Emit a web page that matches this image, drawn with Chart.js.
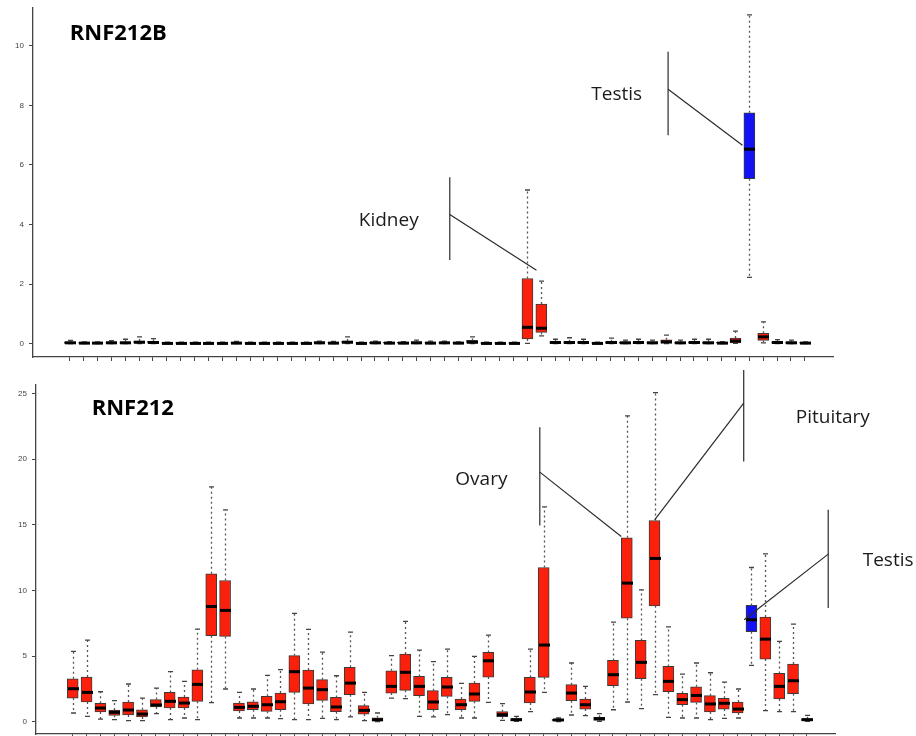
<!DOCTYPE html>
<html>
<head>
<meta charset="utf-8">
<title>RNF212B / RNF212 expression by tissue</title>
<script src="https://cdn.jsdelivr.net/npm/chart.js@4.4.1/dist/chart.umd.min.js"></script>
<style>
  body { margin: 0; background: #fff; }
  #wrap { position: relative; width: 916px; height: 736px; overflow: hidden; }
  canvas { position: absolute; left: 0; }
  #top-chart { top: 0; }
  #bottom-chart { top: 366px; }
</style>
</head>
<body>
<div id="wrap">
  <canvas id="top-chart" width="916" height="366"></canvas>
  <canvas id="bottom-chart" width="916" height="370"></canvas>
</div>
<script>
// tissues, left to right (same order in both panels)
const tissues = [
  "Adipose - Subcutaneous", "Adipose - Visceral", "Adrenal Gland", "Artery - Aorta", "Artery - Coronary",
  "Artery - Tibial", "Bladder", "Brain - Amygdala", "Brain - Anterior cingulate cortex", "Brain - Caudate",
  "Brain - Cerebellar Hemisphere", "Brain - Cerebellum", "Brain - Cortex", "Brain - Frontal Cortex", "Brain - Hippocampus",
  "Brain - Hypothalamus", "Brain - Nucleus accumbens", "Brain - Putamen", "Brain - Spinal cord", "Brain - Substantia nigra",
  "Breast", "Cells - EBV lymphocytes", "Cells - Fibroblasts", "Cervix - Ectocervix", "Cervix - Endocervix",
  "Colon - Sigmoid", "Colon - Transverse", "Esophagus - GE Junction", "Esophagus - Mucosa", "Esophagus - Muscularis",
  "Fallopian Tube", "Heart - Atrial Appendage", "Heart - Left Ventricle", "Kidney - Cortex", "Kidney - Medulla",
  "Liver", "Lung", "Minor Salivary Gland", "Muscle - Skeletal", "Nerve - Tibial",
  "Ovary", "Pancreas", "Pituitary", "Prostate", "Skin - Not Sun Exposed",
  "Skin - Sun Exposed", "Small Intestine", "Spleen", "Stomach", "Testis",
  "Thyroid", "Uterus", "Vagina", "Whole Blood"
];
const highlight = "Testis";

// RNF212B box stats
const rnf212bMin = [
  0, 0, 0, 0, 0, 0, 0, 0, 0, 0,
  0, 0, 0, 0, 0, 0, 0, 0, 0, 0,
  0, 0, 0, 0, 0, 0, 0, 0, 0, 0,
  0, 0, 0, 0.01, 0.26, 0, 0, 0, 0, 0,
  0, 0, 0, 0, 0, 0, 0, 0, 0.01, 2.23,
  0.03, 0, 0, 0
];
const rnf212bQ1 = [
  0.01, 0, 0, 0.01, 0.01, 0.02, 0.02, 0, 0, 0,
  0, 0, 0, 0, 0, 0, 0, 0, 0.01, 0,
  0.02, 0, 0.01, 0, 0, 0.01, 0.01, 0.01, 0, 0.02,
  0, 0, 0, 0.16, 0.38, 0.01, 0.01, 0.01, 0, 0.01,
  0.01, 0.01, 0.01, 0.02, 0.01, 0.01, 0.01, 0, 0.03, 5.54,
  0.11, 0.01, 0.01, 0
];
const rnf212bMed = [
  0.03, 0.02, 0.02, 0.03, 0.03, 0.05, 0.04, 0.01, 0.01, 0.01,
  0.01, 0.01, 0.02, 0.01, 0.01, 0.01, 0.01, 0.01, 0.03, 0.02,
  0.05, 0.01, 0.03, 0.02, 0.02, 0.03, 0.02, 0.03, 0.02, 0.05,
  0.01, 0.01, 0.01, 0.55, 0.52, 0.04, 0.04, 0.04, 0.01, 0.04,
  0.03, 0.04, 0.03, 0.06, 0.03, 0.04, 0.03, 0.02, 0.09, 6.53,
  0.23, 0.04, 0.03, 0.02
];
const rnf212bQ3 = [
  0.06, 0.04, 0.04, 0.06, 0.06, 0.09, 0.08, 0.03, 0.03, 0.03,
  0.03, 0.03, 0.04, 0.03, 0.03, 0.03, 0.03, 0.03, 0.06, 0.05,
  0.09, 0.03, 0.05, 0.05, 0.05, 0.06, 0.05, 0.05, 0.04, 0.11,
  0.03, 0.03, 0.03, 2.19, 1.33, 0.07, 0.07, 0.07, 0.03, 0.07,
  0.06, 0.07, 0.06, 0.13, 0.05, 0.07, 0.06, 0.05, 0.19, 7.75,
  0.35, 0.07, 0.06, 0.04
];
const rnf212bMax = [
  0.11, 0.06, 0.06, 0.10, 0.15, 0.23, 0.17, 0.05, 0.05, 0.05,
  0.05, 0.05, 0.08, 0.05, 0.05, 0.05, 0.05, 0.05, 0.09, 0.08,
  0.23, 0.05, 0.09, 0.07, 0.07, 0.12, 0.09, 0.09, 0.06, 0.23,
  0.05, 0.05, 0.05, 5.16, 2.10, 0.15, 0.20, 0.15, 0.05, 0.19,
  0.12, 0.15, 0.12, 0.29, 0.12, 0.15, 0.15, 0.07, 0.42, 11.04,
  0.73, 0.14, 0.12, 0.06
];

// RNF212 box stats
const rnf212Min = [
  0.66, 0.41, 0.20, 0.15, 0.08, 0.08, 0.61, 0.15, 0.28, 0.15,
  1.45, 2.49, 0.28, 0.28, 0.28, 0.23, 0.15, 0.15, 0.25, 0.15,
  0.36, 0.08, 0.00, 1.80, 1.75, 0.41, 0.36, 0.53, 0.28, 0.28,
  1.47, 0.10, 0.03, 0.76, 2.23, 0.00, 0.51, 0.46, 0.03, 0.91,
  1.50, 0.99, 2.06, 0.33, 0.28, 0.28, 0.15, 0.25, 0.28, 4.29,
  0.84, 0.76, 0.76, 0.03
];
const rnf212Q1 = [
  1.80, 1.50, 0.74, 0.48, 0.51, 0.36, 1.12, 1.04, 1.04, 1.55,
  6.55, 6.50, 0.81, 0.91, 0.79, 0.91, 2.23, 1.35, 1.62, 0.76,
  2.06, 0.58, 0.03, 2.18, 2.39, 1.98, 0.91, 1.93, 0.91, 1.55,
  3.40, 0.38, 0.08, 1.42, 3.38, 0.05, 1.60, 0.96, 0.10, 2.74,
  7.89, 3.27, 8.83, 2.28, 1.29, 1.47, 0.74, 0.96, 0.66, 6.85,
  4.77, 1.73, 2.13, 0.08
];
const rnf212Med = [
  2.51, 2.23, 1.04, 0.71, 0.89, 0.58, 1.27, 1.55, 1.42, 2.84,
  8.78, 8.48, 1.09, 1.17, 1.29, 1.52, 3.81, 2.56, 2.44, 1.12,
  2.94, 0.86, 0.15, 2.69, 3.76, 2.69, 1.50, 2.64, 1.29, 2.11,
  4.64, 0.53, 0.15, 2.26, 5.84, 0.13, 2.18, 1.29, 0.23, 3.58,
  10.56, 4.52, 12.44, 3.07, 1.68, 2.00, 1.35, 1.40, 0.96, 7.77,
  6.29, 2.69, 3.12, 0.15
];
const rnf212Q3 = [
  3.27, 3.40, 1.40, 0.89, 1.50, 0.91, 1.68, 2.23, 1.88, 3.96,
  11.27, 10.76, 1.42, 1.52, 1.93, 2.18, 5.03, 3.93, 3.20, 1.85,
  4.14, 1.22, 0.30, 3.88, 5.15, 3.45, 2.36, 3.38, 1.73, 2.94,
  5.28, 0.76, 0.23, 3.38, 11.75, 0.18, 2.82, 1.73, 0.33, 4.67,
  14.01, 6.19, 15.33, 4.21, 2.16, 2.66, 1.98, 1.78, 1.50, 8.86,
  7.97, 3.68, 4.39, 0.23
];
const rnf212Max = [
  5.36, 6.22, 2.28, 1.60, 2.87, 1.80, 2.56, 3.81, 3.07, 7.06,
  17.90, 16.14, 2.23, 2.49, 3.53, 3.96, 8.25, 7.03, 5.30, 3.50,
  6.83, 2.23, 0.66, 5.03, 7.64, 5.46, 4.57, 5.53, 2.92, 4.97,
  6.60, 1.37, 0.41, 5.53, 16.37, 0.28, 4.47, 2.69, 0.61, 7.59,
  23.30, 10.05, 25.08, 7.23, 3.63, 4.47, 3.73, 3.02, 2.49, 11.75,
  12.79, 6.12, 7.44, 0.48
];

// y tick labels
const topTicks = [0, 2, 4, 6, 8, 10];
const bottomTicks = [0, 5, 10, 15, 20, 25];

const BOX_W = 11;
const LABEL_FONT = "19px 'Open Sans'";
const TITLE_FONT = "bold 22px 'Open Sans'";

// dotted whiskers, caps and median bars, placed through the chart scales
const whiskerPlugin = (mins, meds, maxs, q1s, q3s) => ({
  id: "whiskers",
  afterDatasetsDraw(chart) {
    const { ctx } = chart;
    const xs = chart.scales.x;
    const ys = chart.scales.y;
    ctx.save();
    tissues.forEach((t, i) => {
      const x = Math.round(xs.getPixelForValue(i)) + 0.5;
      const pMin = ys.getPixelForValue(mins[i]);
      const pMax = ys.getPixelForValue(maxs[i]);
      const pQ1 = ys.getPixelForValue(q1s[i]);
      const pQ3 = ys.getPixelForValue(q3s[i]);
      const pMed = ys.getPixelForValue(meds[i]);

      ctx.strokeStyle = "#555";
      ctx.lineWidth = 1.3;
      ctx.setLineDash([2, 3]);
      ctx.beginPath();
      ctx.moveTo(x, pQ3);
      ctx.lineTo(x, pMax);
      ctx.moveTo(x, pQ1);
      ctx.lineTo(x, pMin);
      ctx.stroke();

      ctx.setLineDash([]);
      ctx.strokeStyle = "#444";
      ctx.beginPath();
      ctx.moveTo(x - 2.5, pMax);
      ctx.lineTo(x + 2.5, pMax);
      ctx.moveTo(x - 2.5, pMin);
      ctx.lineTo(x + 2.5, pMin);
      ctx.stroke();

      ctx.strokeStyle = "#000";
      ctx.lineWidth = 3;
      ctx.beginPath();
      ctx.moveTo(x - BOX_W / 2, pMed);
      ctx.lineTo(x + BOX_W / 2, pMed);
      ctx.stroke();
    });
    ctx.restore();
  },
});

// gene title, tissue labels and callout lines (coordinates in data units)
const notesPlugin = (notes) => ({
  id: "notes",
  afterDraw(chart) {
    const { ctx } = chart;
    const xs = chart.scales.x;
    const ys = chart.scales.y;
    const px = (p) => [xs.getPixelForValue(p[0]), ys.getPixelForValue(p[1])];
    ctx.save();
    notes.lines.forEach((l) => {
      const a = px(l[0]);
      const b = px(l[1]);
      ctx.strokeStyle = "#2a2a2a";
      ctx.lineWidth = 1.2;
      ctx.beginPath();
      ctx.moveTo(a[0], a[1]);
      ctx.lineTo(b[0], b[1]);
      ctx.stroke();
    });
    notes.labels.forEach((l) => {
      const p = px(l.at);
      ctx.font = l.bold ? TITLE_FONT : LABEL_FONT;
      ctx.fillStyle = l.bold ? "#000" : "#1b1b1b";
      ctx.textBaseline = "alphabetic";
      ctx.fillText(l.text, p[0], p[1]);
    });
    ctx.restore();
  },
});

const makeChart = (id, q1s, meds, q3s, mins, maxs, yMin, yMax, ticks, pad, notes) => {
  const ctx = document.getElementById(id).getContext("2d");
  return new Chart(ctx, {
    type: "bar",
    data: {
      datasets: [
        {
          data: tissues.map((t, i) => ({ x: i, y: [q1s[i], q3s[i]] })),
          backgroundColor: tissues.map((t) => (t === highlight ? "#1212f5" : "#fb200b")),
          borderColor: "#3a3a3a",
          borderWidth: 1,
          borderSkipped: false,
          barThickness: BOX_W,
        },
      ],
    },
    options: {
      responsive: false,
      animation: false,
      layout: { padding: { left: 0, top: pad.top, right: pad.right, bottom: 0 } },
      plugins: { legend: { display: false }, tooltip: { enabled: false } },
      scales: {
        x: {
          type: "linear",
          min: -2.65,
          max: 55.03,
          offset: false,
          afterBuildTicks: (s) => { s.ticks = tissues.map((t, i) => ({ value: i })); },
          afterFit: (s) => { s.height = pad.xAxis; s.paddingLeft = 0; s.paddingRight = 0; },
          ticks: { display: false },
          grid: { offset: false, drawOnChartArea: false, drawTicks: true, tickLength: 4, color: "#444" },
          border: { display: true, color: "#444", width: 1.3 },
        },
        y: {
          min: yMin,
          max: yMax,
          afterBuildTicks: (s) => { s.ticks = ticks.map((v) => ({ value: v })); },
          // keep the plot box exactly where the axis lines sit
          afterFit: (s) => { s.width = pad.left; s.paddingTop = 0; s.paddingBottom = 0; },
          ticks: { padding: 5, color: "#444", font: { family: "'Liberation Sans'", size: 8 } },
          grid: { drawOnChartArea: false, drawTicks: true, tickLength: 4, color: "#444" },
          border: { display: true, color: "#444", width: 1.3 },
        },
      },
    },
    plugins: [whiskerPlugin(mins, meds, maxs, q1s, q3s), notesPlugin(notes)],
  });
};

makeChart("top-chart", rnf212bQ1, rnf212bMed, rnf212bQ3, rnf212bMin, rnf212bMax,
  -0.446, 11.27, topTicks, { top: 8, right: 83, left: 33, xAxis: 9 },
  {
    labels: [
      { text: "RNF212B", at: [0.0, 10.21], bold: true },
      { text: "Kidney", at: [20.84, 3.95] },
      { text: "Testis", at: [37.6, 8.18] },
    ],
    lines: [
      [[27.4, 5.59], [27.4, 2.81]],
      [[27.4, 4.34], [33.65, 2.47]],
      [[43.14, 9.8], [43.14, 7.0]],
      [[43.14, 8.54], [48.5, 6.66]],
    ],
  });

makeChart("bottom-chart", rnf212Q1, rnf212Med, rnf212Q3, rnf212Min, rnf212Max,
  -0.94, 25.66, bottomTicks, { top: 19, right: 81, left: 36, xAxis: 2 },
  {
    labels: [
      { text: "RNF212", at: [1.37, 23.38], bold: true },
      { text: "Ovary", at: [27.62, 18.05] },
      { text: "Pituitary", at: [52.2, 22.75] },
      { text: "Testis", at: [57.03, 11.83] },
    ],
    lines: [
      [[33.72, 22.44], [33.72, 14.95]],
      [[33.72, 19.02], [39.6, 14.11]],
      [[48.44, 26.81], [48.44, 19.82]],
      [[48.44, 24.27], [42.01, 15.38]],
      [[54.54, 16.15], [54.54, 8.66]],
      [[54.54, 12.77], [48.47, 7.77]],
    ],
  });
</script>
</body>
</html>
